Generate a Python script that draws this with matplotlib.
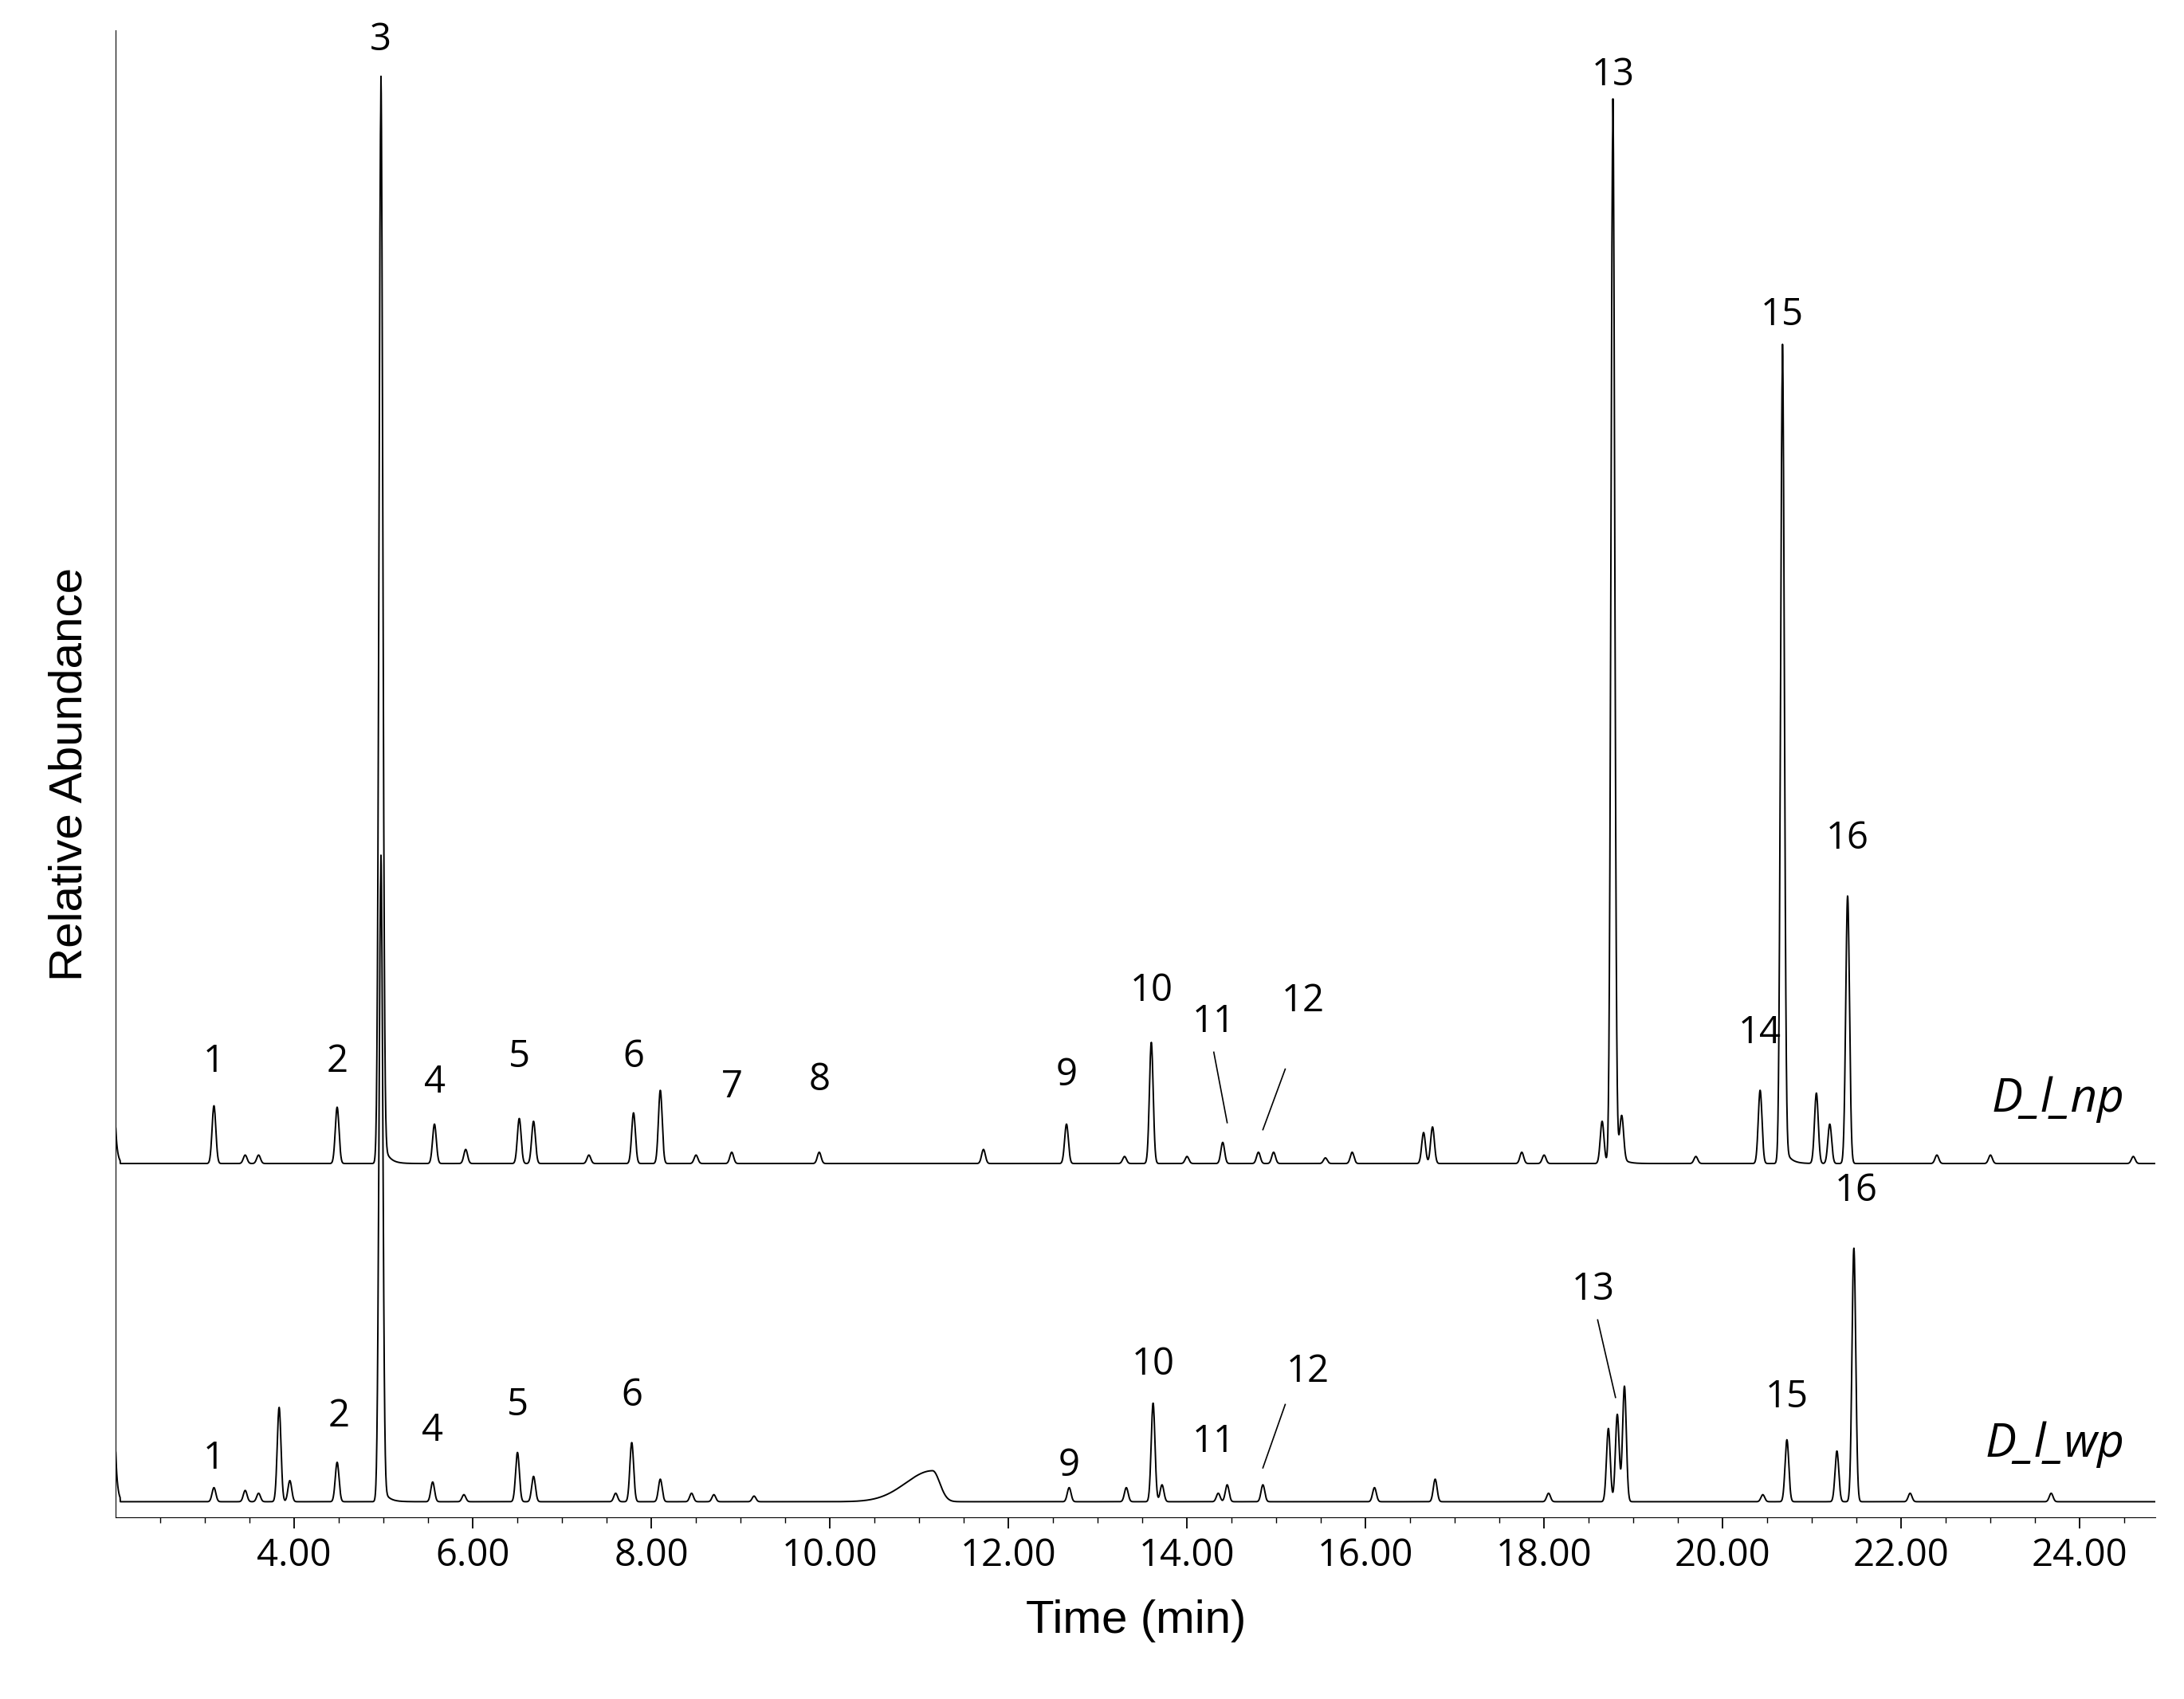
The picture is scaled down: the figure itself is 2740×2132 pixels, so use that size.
import numpy as np
import matplotlib
matplotlib.use("Agg")
import matplotlib.pyplot as plt

# peak retention times (min) and heights (relative units)
np_times = [3.1, 3.45, 3.6, 4.48, 4.97, 5.57, 5.92, 6.52, 6.68, 7.3, 7.8, 8.1, 8.5, 8.9, 9.88, 11.72,
            12.65, 13.3, 13.6, 14.0, 14.4, 14.8, 14.97, 15.55, 15.85, 16.65, 16.75, 17.75, 18.0,
            18.65, 18.77, 18.87, 19.7, 20.42, 20.67, 21.05, 21.2, 21.4, 22.4, 23.0, 24.6]
np_heights = [41, 6, 6, 40, 750, 28, 10, 32, 30, 6, 36, 52, 6, 8, 8, 10,
              28, 5, 86, 5, 15, 8, 8, 4, 8, 22, 26, 8, 6,
              30, 735, 30, 5, 52, 565, 50, 28, 190, 6, 6, 5]
wp_times = [3.1, 3.45, 3.6, 3.83, 3.95, 4.48, 4.97, 5.55, 5.9, 6.5, 6.68, 7.6, 7.78, 8.1, 8.45,
            8.7, 9.15, 11.15, 12.68, 13.32, 13.62, 13.72, 14.35, 14.45, 14.85, 16.1, 16.78, 18.05,
            18.72, 18.82, 18.9, 20.45, 20.72, 21.28, 21.47, 22.1, 23.68]
wp_heights = [10, 8, 6, 67, 15, 28, 446, 14, 5, 35, 18, 6, 42, 16, 6,
              5, 4, 22, 10, 10, 70, 12, 6, 12, 12, 10, 16, 6,
              52, 62, 82, 5, 44, 36, 180, 6, 6]

np_labels = ["1", "2", "3", "4", "5", "6", "7", "8", "9", "10", "11", "12", "13", "14", "15", "16"]
np_label_x = [3.1, 4.48, 4.97, 5.57, 6.52, 7.8, 8.9, 9.88, 12.65, 13.6, 14.3, 15.3, 18.77, 20.42, 20.67, 21.4]
np_label_y = [310, 310, 1035, 295, 313, 313, 292, 297, 300, 360, 338, 353, 1010, 330, 840, 468]
wp_labels = ["1", "2", "4", "5", "6", "9", "10", "11", "12", "13", "15", "16"]
wp_label_x = [3.1, 4.5, 5.55, 6.5, 7.78, 12.68, 13.62, 14.3, 15.35, 18.55, 20.72, 21.5]
wp_label_y = [28, 58, 48, 66, 73, 23, 95, 40, 90, 148, 72, 218]

x = np.linspace(2.0, 24.85, 8000)

def trace(times, heights, base):
    y = np.full_like(x, float(base))
    for t, h in zip(times, heights):
        s = 0.021
        g = np.exp(-0.5 * ((x - t) / s) ** 2)
        if h > 300:
            g = g + np.where(x > t, np.exp(-(x - t) / 0.06), 0) * 0.03
        if abs(t - 11.15) < 0.01:
            g = np.where(x < t, np.exp(-0.5 * ((x - t) / 0.3) ** 2), np.exp(-0.5 * ((x - t) / 0.08) ** 2))
        y += h * g
    return y

fig = plt.figure(figsize=(27.4, 21.32), dpi=100)
ax = fig.add_axes([0.053, 0.107, 0.934, 0.875])
y_np = trace(np_times, np_heights, 251)
y_wp = trace(wp_times, wp_heights, 11)
y_np[x < 2.05] += 25 * np.exp(-(x[x < 2.05] - 2.0) / 0.02)
y_wp[x < 2.05] += 35 * np.exp(-(x[x < 2.05] - 2.0) / 0.02)
ax.plot(x, y_np, color="black", lw=1.4)
ax.plot(x, y_wp, color="black", lw=1.4)
ax.set_xlim(2.0, 24.85)
ax.set_ylim(0, 1055)
for s in ["top", "right"]:
    ax.spines[s].set_visible(False)
ax.set_yticks([])
ax.set_xticks(np.arange(4, 25, 2))
ax.set_xticklabels([f"{v:.2f}" for v in np.arange(4, 25, 2)], fontsize=34, family="Open Sans")
ax.set_xticks(np.arange(2.5, 24.9, 0.5), minor=True)
ax.tick_params(axis="x", which="major", length=10, width=1.3, pad=8)
ax.tick_params(axis="x", which="minor", length=5, width=1)
ax.set_xlabel("Time (min)", fontsize=42, family="Liberation Sans", labelpad=22)
ax.set_ylabel("Relative Abundance", fontsize=42, family="Liberation Sans", labelpad=22)

for l, lx, ly in zip(np_labels, np_label_x, np_label_y):
    ax.text(lx, ly, l, ha="center", va="bottom", fontsize=34, family="Open Sans")
for l, lx, ly in zip(wp_labels, wp_label_x, wp_label_y):
    ax.text(lx, ly, l, ha="center", va="bottom", fontsize=34, family="Open Sans")
# leader lines
ax.plot([14.3, 14.45], [330, 280], color="black", lw=1.2)
ax.plot([15.1, 14.85], [318, 275], color="black", lw=1.2)
ax.plot([18.6, 18.8], [140, 85], color="black", lw=1.2)
ax.plot([15.1, 14.85], [80, 35], color="black", lw=1.2)
ax.text(24.5, 280, "D_l_np", ha="right", va="bottom", fontsize=42, style="italic", family="Open Sans")
ax.text(24.5, 35, "D_l_wp", ha="right", va="bottom", fontsize=42, style="italic", family="Open Sans")
fig.savefig("out.png", dpi=100)
